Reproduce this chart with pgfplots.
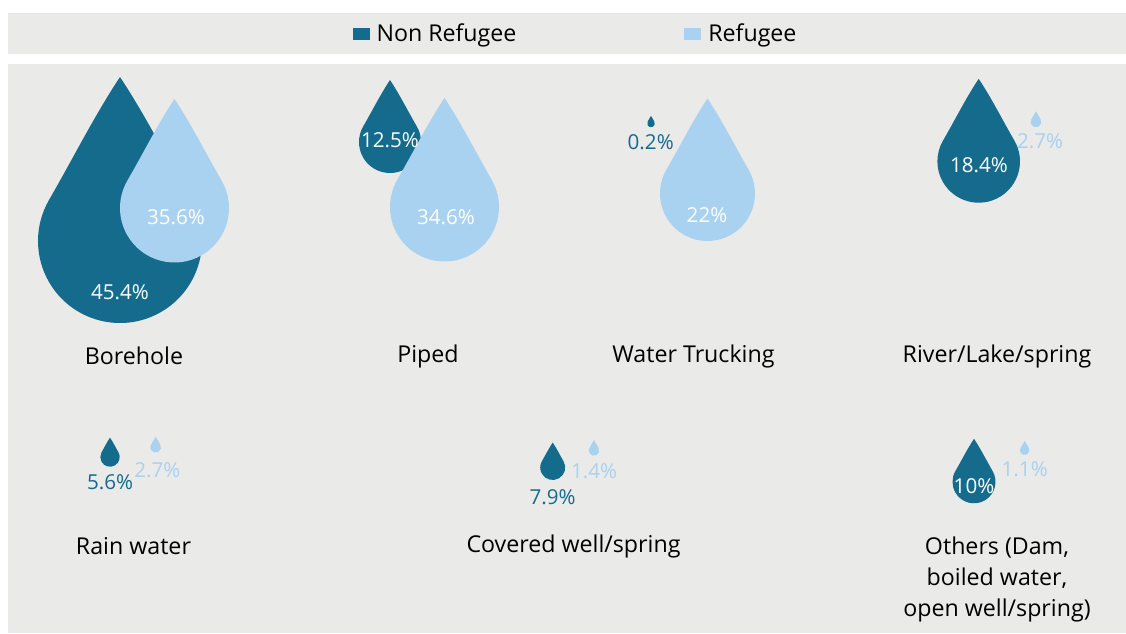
\documentclass[border=0pt]{standalone}
\usepackage{pgfplots}
\pgfplotsset{compat=1.18}
\usepackage{fontspec}
\setmainfont{Open Sans}
\definecolor{nrcol}{RGB}{20,107,140}
\definecolor{rcol}{RGB}{169,209,240}
\definecolor{bggray}{RGB}{234,234,232}
\newcommand\labfont{\fontsize{11.6}{15.5}\selectfont}
\newcommand\pctfont{\fontsize{10.3}{12}\selectfont}
\pgfdeclareplotmark{drop}{%
  \pgfpathmoveto{\pgfqpoint{0pt}{2\pgfplotmarksize}}%
  \pgfpathcurveto{\pgfqpoint{0.30\pgfplotmarksize}{1.55\pgfplotmarksize}}{\pgfqpoint{0.576\pgfplotmarksize}{1.002\pgfplotmarksize}}{\pgfqpoint{0.866\pgfplotmarksize}{0.5\pgfplotmarksize}}%
  \pgfpatharc{30}{-210}{\pgfplotmarksize}%
  \pgfpathcurveto{\pgfqpoint{-0.576\pgfplotmarksize}{1.002\pgfplotmarksize}}{\pgfqpoint{-0.30\pgfplotmarksize}{1.55\pgfplotmarksize}}{\pgfqpoint{0pt}{2\pgfplotmarksize}}%
  \pgfpathclose
  \pgfusepathqfill
}
\pgfplotstableread{
x y r
120 241 82
390 142 31
651 123.5 3.8
978.7 161.4 41.3
110 457 9.7
552.7 467.5 12.5
974 481.8 21.5
}\nonref
\pgfplotstableread{
x y r
174.5 208 54.5
444.5 207 54.5
707.5 193.5 47.5
1036 122 5.3
155.7 447.3 5.3
594 450.5 5.2
1024.7 450.3 4.7
}\refu
\begin{document}
\begin{tikzpicture}
\begin{axis}[
  x=0.5pt, y=0.5pt, y dir=reverse,
  xmin=0, xmax=1126, ymin=0, ymax=633,
  hide axis, clip=false,
  legend columns=2,
  legend image code/.code={\fill[#1] (0pt,-2.9pt) rectangle (8.4pt,2.9pt);},
  legend style={draw=none, fill=none, inner sep=0pt, font=\labfont,
    at={(axis description cs:0.3129,0.9463)}, anchor=west,
    nodes={inner sep=0pt, text=black},
    /tikz/every odd column/.append style={column sep=3.5pt},
    /tikz/every even column/.append style={column sep=84pt}},
]
\fill[white] (axis cs:0,0) rectangle (axis cs:1126,633);
\fill[bggray] (axis cs:8,12.7) rectangle (axis cs:1126,54);
\fill[bggray] (axis cs:8,64) rectangle (axis cs:1126,633);

\addlegendimage{fill=nrcol, draw=none}
\addlegendentry{Non Refugee}
\addlegendimage{fill=rcol, draw=none}
\addlegendentry{Refugee}

% Non refugee drops
\addplot[forget plot, scatter, only marks, mark=drop,
  scatter/use mapped color={draw=none, fill=nrcol},
  visualization depends on={0.5*\thisrow{r} \as \rr},
  scatter/@pre marker code/.append style={/tikz/mark size=\rr pt}]
  table[x=x, y=y] {\nonref};
% Refugee drops
\addplot[forget plot, scatter, only marks, mark=drop,
  scatter/use mapped color={draw=none, fill=rcol},
  visualization depends on={0.5*\thisrow{r} \as \rr},
  scatter/@pre marker code/.append style={/tikz/mark size=\rr pt}]
  table[x=x, y=y] {\refu};

% white labels on drops
\addplot[forget plot, only marks, mark=none, nodes near coords={\pgfplotspointmeta\%},
  point meta=explicit symbolic,
  every node near coord/.append style={anchor=center, inner sep=0pt, font=\pctfont, text=white}]
  table[meta=v] {
x y v
120 291.7 45.4
176 216.7 35.6
390 140 12.5
446 216.7 34.6
707 215 22
979 165 18.4
974 485.7 10
};
% dark labels
\addplot[forget plot, only marks, mark=none, nodes near coords={\pgfplotspointmeta\%},
  point meta=explicit symbolic,
  every node near coord/.append style={anchor=center, inner sep=0pt, font=\pctfont, text=nrcol}]
  table[meta=v] {
x y v
650.7 141.7 0.2
110 481.7 5.6
552.7 497.3 7.9
};
% light labels
\addplot[forget plot, only marks, mark=none, nodes near coords={\pgfplotspointmeta\%},
  point meta=explicit symbolic,
  every node near coord/.append style={anchor=center, inner sep=0pt, font=\pctfont, text=rcol}]
  table[meta=v] {
x y v
1040 141 2.7
157.3 470 2.7
594 470.7 1.4
1024.7 469.3 1.1
};

\node[font=\labfont] at (axis cs:134,356) {Borehole};
\node[font=\labfont] at (axis cs:428,356) {Piped};
\node[font=\labfont] at (axis cs:693.5,356) {Water Trucking};
\node[font=\labfont] at (axis cs:997,356) {River/Lake/spring};
\node[font=\labfont] at (axis cs:133.5,546) {Rain water};
\node[font=\labfont] at (axis cs:573.5,546) {Covered well/spring};
\node[font=\labfont, align=center] at (axis cs:997,579) {Others (Dam,\\boiled water,\\open well/spring)};
\end{axis}
\end{tikzpicture}
\end{document}
